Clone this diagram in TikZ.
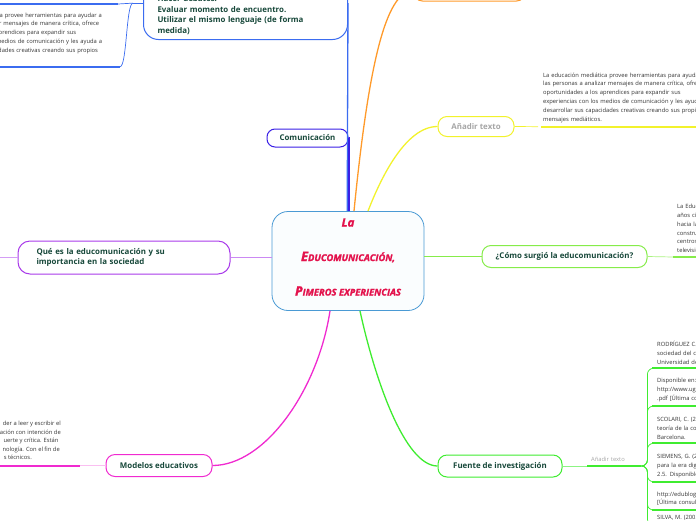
\documentclass[tikz,border=0pt]{standalone}
\usepackage{fontspec}
\setmainfont{Open Sans}
\newfontfamily\titlefont{Open Sans}[BoldItalicFeatures={FakeBold=1.6}]
\usepackage{tikz}
\usetikzlibrary{positioning}
\definecolor{LabelGreen}{HTML}{17483A}
\definecolor{CoreRed}{HTML}{E3124C}
\definecolor{CoreBlue}{HTML}{4A9AD4}
\definecolor{CoreFill}{HTML}{FAFDFE}
\definecolor{TopBlue}{HTML}{3B6CF0}
\definecolor{ComBlue}{HTML}{3A1FE6}
\definecolor{OrangeBr}{HTML}{FF9A2A}
\definecolor{YellowBr}{HTML}{F2F22C}
\definecolor{GreenBr}{HTML}{86EC4A}
\definecolor{FuenteGreen}{HTML}{3FEC30}
\definecolor{PurpleBr}{HTML}{A93BEA}
\definecolor{MagentaBr}{HTML}{F02AD0}
\definecolor{AddGray}{HTML}{A6A6A6}
\definecolor{NoteText}{HTML}{333333}

\begin{document}
\begin{tikzpicture}[x=1pt, y=-1pt,
    topic/.style={draw, line width=1pt, rounded corners=9pt, fill=white, text=LabelGreen, font=\fontsize{7.9}{10.5}\selectfont\bfseries, align=left, minimum height=20pt},
    core/.style={draw=CoreBlue, line width=0.8pt, rounded corners=16pt, fill=CoreFill, minimum width=152pt, minimum height=99pt},
    note/.style={font=\fontsize{5.8}{8.8}\selectfont, text=NoteText, align=left, text width=176pt, inner xsep=5pt, inner ysep=4pt},
    branch/.style={line width=1.3pt},
    twig/.style={line width=0.7pt},
    underline/.style={line width=2pt},
]
\useasboundingbox (0,0) rectangle (696,520);
\clip (0,0) rectangle (696,520);

% centre
\node[core] (core) at (348,261) {};
\node[font=\titlefont\bfseries\itshape\fontsize{11.5}{34.5}\selectfont, text=CoreRed, align=center] (title) at (348,257)
    {La\\
     {\fontsize{13}{34.5}\selectfont E}{\fontsize{9.4}{34.5}\selectfont DUCOMUNICACIÓN,}\\
     {\fontsize{13}{34.5}\selectfont P}{\fontsize{9.4}{34.5}\selectfont IMEROS EXPERIENCIAS}};

% topics
\node[topic, draw=TopBlue, rounded corners=15pt, anchor=south west, text width=176pt, inner xsep=14pt, inner ysep=5pt] (debates) at (143,40)
    {\rule{0pt}{30pt}Hacer debates.\\Evaluar momento de encuentro.\\Utilizar el mismo lenguaje (de forma\\medida)};
\node[topic, draw=ComBlue, minimum width=81pt, minimum height=18pt, rounded corners=8pt] (comunic) at (307.5,138) {Comunicación};
\node[topic, draw=OrangeBr, minimum width=112pt, anchor=south west] (orangebox) at (413,1.5) {};
\node[topic, draw=YellowBr, text=AddGray, minimum width=76pt] (addtext) at (476,126.5) {Añadir texto};
\node[topic, draw=GreenBr, minimum width=165pt, minimum height=22pt] (como) at (564.5,256.5) {¿Cómo surgió la educomunicación?};
\node[topic, draw=PurpleBr, text width=175pt, inner xsep=18.5pt, minimum height=33pt, rounded corners=12pt] (quees) at (124,257.5)
    {Qué es la educomunicación y su\\importancia en la sociedad};
\node[topic, draw=MagentaBr, minimum width=106pt, minimum height=22pt] (modelos) at (159,465.5) {Modelos educativos};
\node[topic, draw=FuenteGreen, minimum width=124pt, minimum height=22pt] (fuente) at (500,466) {Fuente de investigación};

% notes
\node[note, anchor=south east] (leftnote) at (120,66.7)
    {La educación mediática provee herramientas para ayudar a\\las personas a analizar mensajes de manera crítica, ofrece\\oportunidades a los aprendices para expandir sus\\experiencias con los medios de comunicación y les ayuda a\\desarrollar sus capacidades creativas creando sus propios\\mensajes mediáticos.};
\node[note, anchor=south west] (medianote) at (538,126.7)
    {La educación mediática provee herramientas para ayudar a\\las personas a analizar mensajes de manera crítica, ofrece\\oportunidades a los aprendices para expandir sus\\experiencias con los medios de comunicación y les ayuda a\\desarrollar sus capacidades creativas creando sus propios\\mensajes mediáticos.};
\node[note, anchor=south west, text width=120pt, inner xsep=4pt] (surgenote) at (673,257)
    {La Educomunicación\\años cincuenta\\hacia la\\construcción\\centros\\televisión};
\node[note, anchor=south west, text width=46pt, inner xsep=4pt, text=AddGray] (fuente-add) at (587,466) {Añadir texto};
\foreach \i/\y/\txt in {
    1/368.3/{RODRÍGUEZ C., \\sociedad del conocimiento\\Universidad de},
    2/406/{Disponible en:\\http://www.ugr.es\\.pdf [Última consulta},
    3/443.3/{SCOLARI, C. (2008)\\teoría de la comunicación\\Barcelona.},
    4/481.7/{SIEMENS, G. (2004)\\para la era digital\\2.5. Disponible},
    5/510/{http://edublogs\\{}[Última consulta},
    6/525/{SILVA, M. (2005)}}
  \node[note, anchor=south west, text width=120pt] (ref-\i) at (652,\y) {\txt};
\coordinate (upnote) at (118,4);
\coordinate (hub) at ([xshift=-10pt]debates.west);
\coordinate (modline) at (80,465.5);
\coordinate (quees-out) at (-5,257.5);

% connectors
\draw[branch, TopBlue] ([xshift=-0.8pt]core.north) -- (core.north |- debates.east) -- (debates.east);
\draw[branch, ComBlue] ([xshift=1pt]core.north) -- ([xshift=1pt]core.north |- comunic.east) -- (comunic.east);
\draw[branch, OrangeBr] ([xshift=6pt]core.north) .. controls (368,70) and (385,-9.5) .. (orangebox.west);
\draw[branch, YellowBr] ([xshift=20pt]core.north) .. controls (380,180) and (405,126.5) .. (addtext.west);
\draw[twig, GreenBr] (como.west -| core.east) -- (como.west);
\draw[twig, PurpleBr!60] (quees.east -| core.west) -- (quees.east);
\draw[branch, MagentaBr] ([xshift=-18pt]core.south) .. controls (318,390) and (265,465.5) .. (modelos.east);
\draw[branch, FuenteGreen] ([xshift=12pt]core.south) .. controls (375,380) and (405,466) .. (fuente.west);

\draw[twig, TopBlue] (debates.west) -- (hub);
\draw[twig, TopBlue] (hub) .. controls (126,3.5) and (125,4) .. (upnote);
\draw[twig, TopBlue] (hub) .. controls (126,3.5) and (127,66.7) .. (leftnote.south east);
\draw[underline, TopBlue] (upnote) -- ++(-130,0);
\draw[underline, TopBlue] (leftnote.south west) -- (leftnote.south east);

\draw[twig, YellowBr] (addtext.east) -- (medianote.south west);
\draw[underline, YellowBr] ([xshift=3pt]medianote.south west) -- (medianote.south east);

\draw[twig, GreenBr!70] (como.east) -- (surgenote.south west);
\draw[underline, GreenBr] (surgenote.south west) -- (surgenote.south east);

\draw[twig, PurpleBr!50] (quees.west) -- (quees-out);

\draw[line width=1.5pt, MagentaBr!30] (modelos.west) -- (modline);
\draw[underline, MagentaBr] (modline) -- ++(-90,0);
\foreach \ex/\ey/\txt in {61/424/{der a leer y escribir el}, 61/432.7/{ación con intención de},
    58.7/441/{uerte y crítica. Están}, 60/449.7/{nología. Con el fin de}, 32/457.7/{s técnicos.}}
  \node[font=\fontsize{5.8}{8.8}\selectfont, text=NoteText, anchor=east, inner sep=0pt] at (\ex,\ey) {\txt};

\draw[twig, FuenteGreen!60] (fuente.east) -- (fuente-add.south west);
\draw[underline, FuenteGreen] (fuente-add.south west) -- (fuente-add.south east);
\foreach \i in {1,...,6}
  \draw[twig, FuenteGreen, rounded corners=6pt] (fuente-add.south east) -- ++(6,0) |- (ref-\i.south west);
\foreach \i in {1,...,5}
  \draw[underline, FuenteGreen] (ref-\i.south west) -- (ref-\i.south east);
\end{tikzpicture}
\end{document}
